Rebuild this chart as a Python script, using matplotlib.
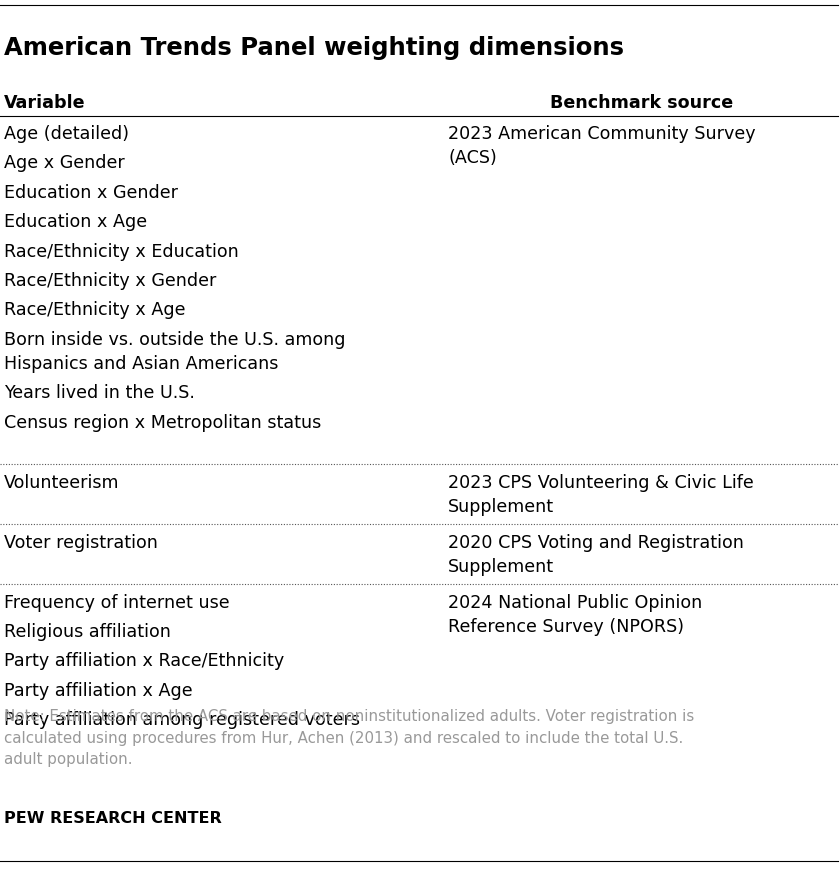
import matplotlib.pyplot as plt

# Datos de la tabla
titulo = 'American Trends Panel weighting dimensions'
encabezados = ['Variable', 'Benchmark source']
variables = [
  ['Age (detailed)', 'Age x Gender', 'Education x Gender', 'Education x Age',
   'Race/Ethnicity x Education', 'Race/Ethnicity x Gender', 'Race/Ethnicity x Age',
   'Born inside vs. outside the U.S. among\nHispanics and Asian Americans',
   'Years lived in the U.S.', 'Census region x Metropolitan status'],
  ['Volunteerism'],
  ['Voter registration'],
  ['Frequency of internet use', 'Religious affiliation',
   'Party affiliation x Race/Ethnicity', 'Party affiliation x Age',
   'Party affiliation among registered voters'],
]
fuentes = [
  '2023 American Community Survey\n(ACS)',
  '2023 CPS Volunteering & Civic Life\nSupplement',
  '2020 CPS Voting and Registration\nSupplement',
  '2024 National Public Opinion\nReference Survey (NPORS)',
]
nota = ('Note: Estimates from the ACS are based on noninstitutionalized adults. Voter registration is\n'
        'calculated using procedures from Hur, Achen (2013) and rescaled to include the total U.S.\n'
        'adult population.')
fuente_pie = 'PEW RESEARCH CENTER'

plt.rcParams['font.family'] = 'DejaVu Sans'
fig = plt.figure(figsize=(8.4, 8.7), dpi=100)
ax = fig.add_axes([0, 0, 1, 1])
ax.set_xlim(0, 840)
ax.set_ylim(870, 0)
ax.axis('off')

fs = 12.6
paso = 29.4
linea = 24

def escribir(x, y, texto, **kw):
  for j, t in enumerate(texto.split('\n')):
    ax.text(x, y + j * linea, t, fontsize=fs, va='center', **kw)

ax.plot([0, 838], [6, 6], color='black', lw=0.8)
ax.text(4, 48, titulo, fontsize=17.5, fontweight='bold', va='center')
ax.text(4, 103, encabezados[0], fontsize=fs, fontweight='bold', va='center')
ax.text(642, 103, encabezados[1], fontsize=fs, fontweight='bold', va='center', ha='center')
ax.plot([0, 838], [117, 117], color='black', lw=0.8)

y = 134
for i, grupo in enumerate(variables):
  escribir(448, y, fuentes[i])
  fin = y
  for v in grupo:
    escribir(4, y, v)
    fin = y + v.count('\n') * linea
    y = fin + paso
  if i < len(variables) - 1:
    sep = max(fin, y - paso + linea) + 18
    sep = fin + 18 if fin > y - paso else sep
    sep = max(fin, y - paso + linea * fuentes[i].count('\n')) + 18
    ax.plot([0, 838], [sep, sep], color='#555555', lw=0.8, ls=(0, (1, 1.5)))
    y = sep + 18

ax.text(4, 709, nota, fontsize=10.8, color='#999999', va='top', linespacing=1.55)
ax.text(4, 819, fuente_pie, fontsize=11.5, fontweight='bold', va='center')
ax.plot([0, 838], [862, 862], color='black', lw=0.8)

fig.savefig('out.png', dpi=100)
